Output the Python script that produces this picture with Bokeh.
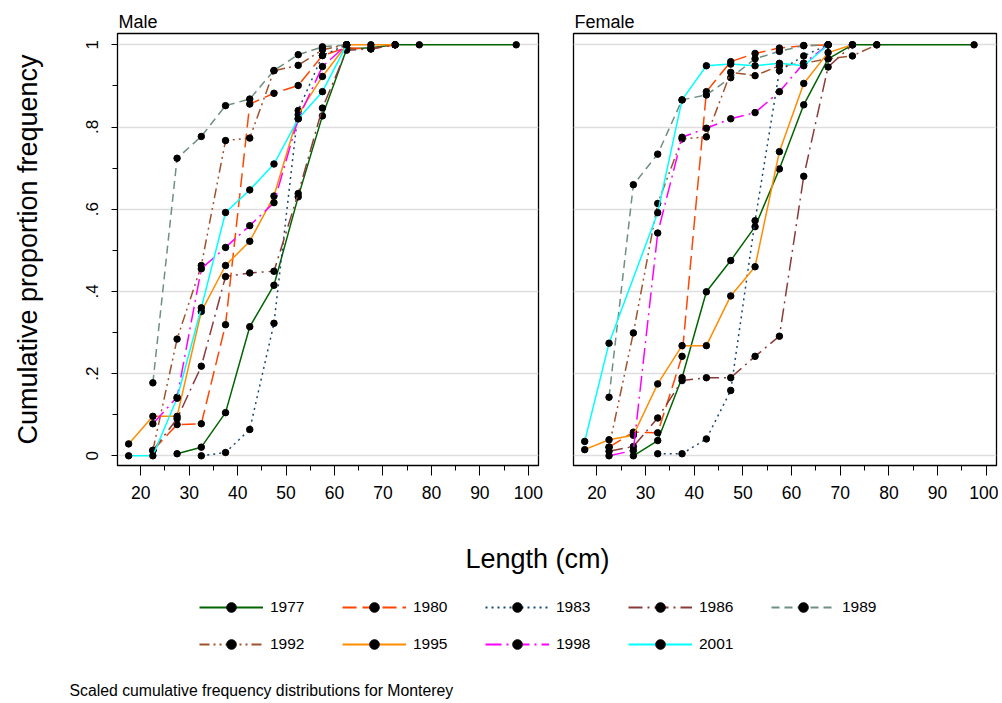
from bokeh.plotting import figure
from bokeh.models import (Range1d, FixedTicker, Legend, LegendItem, CustomJSTickFormatter,
                          Grid, Label)
from bokeh.layouts import column, row
from bokeh.embed import file_html
from bokeh.resources import INLINE

FONT = "Liberation Sans"

years = ["1977", "1980", "1983", "1986", "1989", "1992", "1995", "1998", "2001"]

# ---------------- Male (length midpoints, cumulative proportion) ----------------
m1977_len = [27.5, 32.5, 37.5, 42.5, 47.5, 52.5, 57.5, 62.5, 67.5, 72.5, 77.5, 97.5]
m1977_cum = [0.005, 0.021, 0.105, 0.314, 0.415, 0.630, 0.827, 0.990, 0.993, 1.0, 1.0, 1.0]
m1980_len = [22.5, 27.5, 32.5, 37.5, 42.5, 47.5, 52.5, 57.5, 62.5, 67.5, 72.5]
m1980_cum = [0.013, 0.076, 0.078, 0.319, 0.856, 0.882, 0.901, 0.974, 0.993, 0.990, 1.0]
m1983_len = [32.5, 37.5, 42.5, 47.5, 52.5, 57.5, 62.5]
m1983_cum = [0.0, 0.008, 0.064, 0.3225, 0.840, 0.974, 1.0]
m1986_len = [22.5, 27.5, 32.5, 37.5, 42.5, 47.5, 52.5, 57.5, 62.5, 67.5, 72.5]
m1986_cum = [0.013, 0.090, 0.218, 0.436, 0.445, 0.449, 0.638, 0.846, 0.987, 0.990, 1.0]
m1989_len = [22.5, 27.5, 32.5, 37.5, 42.5, 47.5, 52.5, 57.5, 62.5]
m1989_cum = [0.1775, 0.724, 0.777, 0.852, 0.868, 0.9375, 0.976, 0.995, 1.0]
m1992_len = [22.5, 27.5, 32.5, 37.5, 42.5, 47.5, 52.5, 57.5, 62.5]
m1992_cum = [0.013, 0.284, 0.463, 0.767, 0.773, 0.937, 0.950, 0.988, 1.0]
m1995_len = [17.5, 22.5, 27.5, 32.5, 37.5, 42.5, 47.5, 52.5, 57.5, 62.5, 67.5, 72.5]
m1995_cum = [0.029, 0.096, 0.096, 0.351, 0.463, 0.522, 0.632, 0.830, 0.923, 1.0, 1.0, 1.0]
m1998_len = [22.5, 27.5, 32.5, 37.5, 42.5, 47.5, 52.5, 57.5, 62.5]
m1998_cum = [0.078, 0.1425, 0.455, 0.507, 0.560, 0.616, 0.820, 0.947, 1.0]
m2001_len = [17.5, 22.5, 27.5, 32.5, 37.5, 42.5, 47.5, 52.5, 57.5, 62.5]
m2001_cum = [0.0, 0.0, 0.140, 0.360, 0.592, 0.647, 0.710, 0.820, 0.886, 1.0]

# ---------------- Female ----------------
f1977_len = [27.5, 32.5, 37.5, 42.5, 47.5, 52.5, 57.5, 62.5, 67.5, 72.5, 77.5, 97.5]
f1977_cum = [0.0, 0.037, 0.190, 0.399, 0.475, 0.5575, 0.698, 0.854, 0.966, 1.0, 1.0, 1.0]
f1980_len = [22.5, 27.5, 32.5, 37.5, 42.5, 47.5, 52.5, 57.5, 62.5, 67.5]
f1980_cum = [0.021, 0.0575, 0.056, 0.242, 0.886, 0.959, 0.979, 0.992, 0.998, 1.0]
f1983_len = [32.5, 37.5, 42.5, 47.5, 52.5, 57.5, 62.5, 67.5]
f1983_cum = [0.005, 0.005, 0.041, 0.159, 0.572, 0.937, 0.973, 1.0]
f1986_len = [22.5, 27.5, 32.5, 37.5, 42.5, 47.5, 52.5, 57.5, 62.5, 67.5, 72.5]
f1986_cum = [0.011, 0.0226, 0.092, 0.183, 0.190, 0.190, 0.242, 0.291, 0.680, 0.946, 1.0]
f1989_len = [22.5, 27.5, 32.5, 37.5, 42.5, 47.5, 52.5, 57.5, 62.5, 67.5]
f1989_cum = [0.1425, 0.6596, 0.734, 0.866, 0.878, 0.920, 0.966, 0.984, 0.998, 1.0]
f1992_len = [22.5, 27.5, 32.5, 37.5, 42.5, 47.5, 52.5, 57.5, 62.5, 67.5, 72.5, 77.5]
f1992_cum = [0.021, 0.299, 0.614, 0.771, 0.776, 0.933, 0.925, 0.949, 0.955, 0.966, 0.973, 1.0]
f1995_len = [17.5, 22.5, 27.5, 32.5, 37.5, 42.5, 47.5, 52.5, 57.5, 62.5, 67.5, 72.5]
f1995_cum = [0.015, 0.039, 0.050, 0.175, 0.268, 0.268, 0.389, 0.460, 0.740, 0.906, 0.981, 1.0]
f1998_len = [22.5, 27.5, 32.5, 37.5, 42.5, 47.5, 52.5, 57.5, 62.5, 67.5]
f1998_cum = [0.0, 0.013, 0.542, 0.775, 0.797, 0.820, 0.835, 0.886, 0.955, 1.0]
f2001_len = [17.5, 22.5, 32.5, 37.5, 42.5, 47.5, 52.5, 57.5, 62.5, 67.5]
f2001_cum = [0.035, 0.274, 0.5915, 0.866, 0.949, 0.953, 0.949, 0.955, 0.949, 1.0]

x_ticks = [20, 30, 40, 50, 60, 70, 80, 90, 100]
x_minor = [25, 35, 45, 55, 65, 75, 85, 95]
y_ticks = [0, 0.2, 0.4, 0.6, 0.8, 1.0]
y_minor = [0.1, 0.3, 0.5, 0.7, 0.9]

# ---------------- styles ----------------
colors = ["#006400", "#ff4500", "#1a476f", "#8b3a3a", "#6f8f80",
          "#a0522d", "#ff8c00", "#ff00ff", "#00ffff"]
dashes = ["solid", "14 6", "2 4", "14 5 2 5", "8 5",
          "10 4 2 4 2 4", "solid", "16 5 2 5", "solid"]

male_series = [(m1977_len, m1977_cum), (m1980_len, m1980_cum), (m1983_len, m1983_cum),
               (m1986_len, m1986_cum), (m1989_len, m1989_cum), (m1992_len, m1992_cum),
               (m1995_len, m1995_cum), (m1998_len, m1998_cum), (m2001_len, m2001_cum)]
female_series = [(f1977_len, f1977_cum), (f1980_len, f1980_cum), (f1983_len, f1983_cum),
                 (f1986_len, f1986_cum), (f1989_len, f1989_cum), (f1992_len, f1992_cum),
                 (f1995_len, f1995_cum), (f1998_len, f1998_cum), (f2001_len, f2001_cum)]

TOP_H = 505
BOT_H = 198
MALE_W = 555
FEMALE_W = 443
TOTAL_W = MALE_W + FEMALE_W


def make_panel(title, series, show_y, width, left, right):
    p = figure(width=width, height=TOP_H,
               x_range=Range1d(15.2, 102.1), y_range=Range1d(-0.0236, 1.0275),
               output_backend="svg", toolbar_location=None,
               min_border_left=left, min_border_right=right,
               min_border_top=33, min_border_bottom=40,
               y_axis_location="left" if show_y else None,
               title=title)
    p.title.text_font = FONT
    p.title.text_font_size = "18px"
    p.title.text_font_style = "normal"
    p.title.text_color = "black"
    p.title.align = "left"
    p.title.standoff = 3
    p.title.offset = 1
    p.outline_line_color = "black"
    p.outline_line_width = 1.3
    p.outline_line_alpha = 1
    p.background_fill_color = "white"
    p.border_fill_color = "white"

    p.xgrid.visible = False
    p.ygrid.visible = False
    p.add_layout(Grid(dimension=1, ticker=FixedTicker(ticks=y_ticks),
                      grid_line_color="#dedede", grid_line_width=1.5), "center")

    xa = p.xaxis[0]
    xa.ticker = FixedTicker(ticks=x_ticks, minor_ticks=x_minor)
    xa.major_tick_out = 10
    xa.major_tick_in = 0
    xa.minor_tick_out = 5
    xa.minor_tick_in = 0
    xa.major_tick_line_color = "black"
    xa.minor_tick_line_color = "black"
    xa.axis_line_color = "black"
    xa.major_label_text_font = FONT
    xa.major_label_text_font_size = "17.5px"
    xa.major_label_text_color = "black"
    xa.major_label_standoff = 10

    if show_y:
        ya = p.yaxis[0]
        ya.ticker = FixedTicker(ticks=y_ticks, minor_ticks=y_minor)
        ya.formatter = CustomJSTickFormatter(code="""
            if (Math.abs(tick) < 1e-9) return "0";
            if (Math.abs(tick - 1) < 1e-9) return "1";
            return tick.toFixed(1).replace(/^0/, "");
        """)
        ya.major_tick_out = 6
        ya.major_tick_in = 0
        ya.minor_tick_out = 5
        ya.minor_tick_in = 0
        ya.major_tick_line_color = "black"
        ya.minor_tick_line_color = "black"
        ya.axis_line_color = "black"
        ya.major_label_orientation = "vertical"
        ya.major_label_text_font = FONT
        ya.major_label_text_font_size = "17px"
        ya.major_label_text_color = "black"
        ya.major_label_standoff = 13
        ya.axis_label = "Cumulative proportion frequency"
        ya.axis_label_text_font = FONT
        ya.axis_label_text_font_size = "27px"
        ya.axis_label_text_font_style = "normal"
        ya.axis_label_text_color = "black"
        ya.axis_label_standoff = 41

    for (xs, ys), c, d in zip(series, colors, dashes):
        p.line(xs, ys, line_color=c, line_width=1.5, line_dash=d)
        p.scatter(xs, ys, size=6.5, fill_color="black", line_color="black")
    return p


male = make_panel("Male", male_series, True, MALE_W, 117, 17)
female = make_panel("Female", female_series, False, FEMALE_W, 18, 2)

# ---------------- bottom: axis title, legend, note ----------------
leg = figure(width=TOTAL_W, height=BOT_H, x_range=Range1d(0, TOTAL_W), y_range=Range1d(0, BOT_H),
             output_backend="svg", toolbar_location=None, min_border=0,
             x_axis_location=None, y_axis_location=None)
leg.outline_line_color = None
leg.xgrid.visible = False
leg.ygrid.visible = False

nan = float("nan")
items = []
for yr, c, d in zip(years, colors, dashes):
    rl = leg.line(x=[nan], y=[nan], line_color=c, line_width=2, line_dash=d)
    rp = leg.scatter(x=[nan], y=[nan], size=9, fill_color="black", line_color="black")
    items.append(LegendItem(label=yr, renderers=[rl, rp]))

legend = Legend(items=items, ncols=5, orientation="horizontal", location=(199, 47),
                glyph_width=64, glyph_height=24, label_standoff=7, label_width=59,
                spacing=13, padding=0, margin=0, border_line_color=None,
                background_fill_alpha=0, label_text_font=FONT,
                label_text_font_size="15.5px", label_text_color="black")
leg.add_layout(legend, "center")

leg.add_layout(Label(x=537, y=145, x_units="screen", y_units="screen", text="Length (cm)",
                     text_font=FONT, text_font_size="27px", text_align="center",
                     text_baseline="middle", text_color="black"))
leg.add_layout(Label(x=69, y=13, x_units="screen", y_units="screen",
                     text="Scaled cumulative frequency distributions for Monterey",
                     text_font=FONT, text_font_size="15.8px", text_align="left",
                     text_baseline="middle", text_color="black"))

layout = column(row(male, female), leg)

with open("out.html", "w") as fh:
    fh.write(file_html(layout, INLINE))
